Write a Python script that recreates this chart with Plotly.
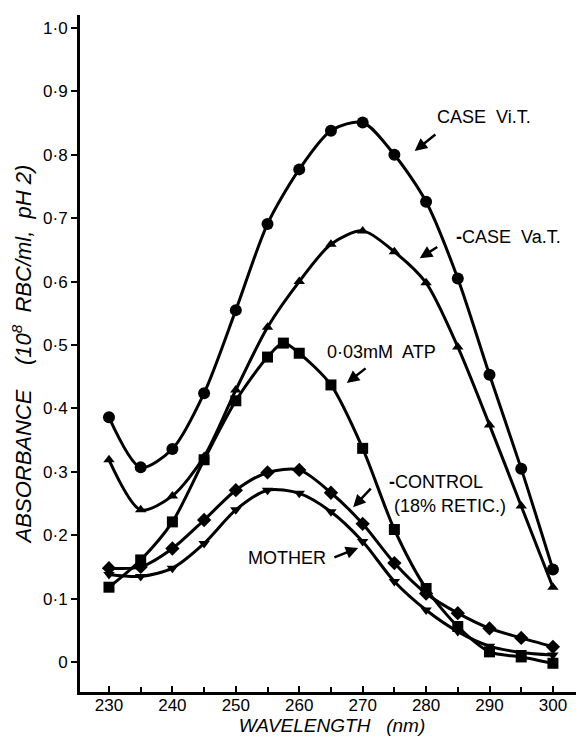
import plotly.graph_objects as go

# wavelength grid (nm)
wavelength = [230, 235, 240, 245, 250, 255, 260, 265, 270, 275, 280, 285, 290, 295, 300]
atp_wavelength = [230, 235, 240, 245, 250, 255, 257.5, 260, 265, 270, 275, 280, 285, 290, 295, 300]

# absorbance
case_vit = [0.386, 0.307, 0.336, 0.424, 0.555, 0.691, 0.777, 0.838, 0.851, 0.800, 0.726, 0.605, 0.453, 0.305, 0.146]
case_vat = [0.319, 0.240, 0.262, 0.324, 0.429, 0.528, 0.600, 0.659, 0.680, 0.647, 0.598, 0.497, 0.374, 0.246, 0.118]
atp = [0.118, 0.161, 0.221, 0.319, 0.412, 0.481, 0.503, 0.487, 0.437, 0.337, 0.209, 0.116, 0.056, 0.016, 0.008, -0.002]
control = [0.148, 0.150, 0.179, 0.224, 0.271, 0.299, 0.303, 0.267, 0.218, 0.156, 0.108, 0.077, 0.053, 0.038, 0.024]
mother = [0.138, 0.135, 0.148, 0.187, 0.240, 0.271, 0.266, 0.237, 0.190, 0.127, 0.082, 0.048, 0.025, 0.015, 0.011]

y_tickvals = [0, 0.1, 0.2, 0.3, 0.4, 0.5, 0.6, 0.7, 0.8, 0.9, 1.0]
y_ticktext = ["0", "0·1", "0·2", "0·3", "0·4", "0·5", "0·6", "0·7", "0·8", "0·9", "1·0"]
x_tickvals = [230, 240, 250, 260, 270, 280, 290, 300]

FONT = "Liberation Sans"
INK = "black"

series = [
    (wavelength, case_vit, "circle", 12),
    (wavelength, case_vat, "triangle-up", 10),
    (atp_wavelength, atp, "square", 11),
    (wavelength, control, "diamond", 11),
    (wavelength, mother, "triangle-down", 10),
]

fig = go.Figure()
for xs, ys, sym, size in series:
    fig.add_trace(go.Scatter(
        x=xs, y=ys, mode="lines+markers",
        line=dict(color=INK, width=3, shape="spline", smoothing=0.8),
        marker=dict(symbol=sym, size=size, color=INK),
        showlegend=False,
    ))

# labels: (text, x, y)
labels = [
    ("CASE  Vi.T.", 289.1, 0.860),
    ("<b>-</b>CASE  Va.T.", 293.0, 0.670),
    ("0·03mM  ATP", 273.0, 0.489),
    ("<b>-</b>CONTROL", 281.6, 0.284),
    ("(18% RETIC.)", 283.8, 0.246),
    ("MOTHER", 258.1, 0.164),
]
for txt, lx, ly in labels:
    fig.add_annotation(x=lx, y=ly, text=txt, showarrow=False,
                       font=dict(family=FONT, size=18, color=INK))

# arrows: (tail x, tail y, head x, head y)
arrows = [
    (281.7, 0.834, 278.2, 0.806),
    (282.0, 0.656, 279.0, 0.637),
    (270.7, 0.465, 267.5, 0.440),
    (271.5, 0.276, 268.5, 0.244),
    (265.3, 0.164, 269.3, 0.180),
]
for tx, ty, hx, hy in arrows:
    fig.add_annotation(x=hx, y=hy, ax=tx, ay=ty, axref="x", ayref="y",
                       text="", showarrow=True, arrowhead=2, arrowsize=1,
                       arrowwidth=2.5, arrowcolor=INK)

# the page body adds an 8px offset, so the figure is a little smaller
fig.update_layout(
    width=576, height=737,
    margin=dict(l=72, r=0, t=7, b=53),
    paper_bgcolor="white", plot_bgcolor="white",
    font=dict(family=FONT, color=INK),
)
fig.update_xaxes(
    range=[225.43, 304.9], tickvals=x_tickvals,
    ticks="inside", ticklen=6, tickwidth=1.5, tickcolor=INK,
    minor=dict(dtick=5, tick0=230, ticks="inside", ticklen=5, tickwidth=1.5, tickcolor=INK),
    showline=True, linecolor=INK, linewidth=3, showgrid=False, zeroline=False,
    tickfont=dict(size=17), ticklabelstandoff=-4,
    title=dict(text="<i>WAVELENGTH   (nm)</i>", font=dict(size=19), standoff=0),
)
fig.update_yaxes(
    range=[-0.0473, 1.0205], tickvals=y_tickvals, ticktext=y_ticktext,
    ticks="outside", ticklen=6, tickwidth=1.5, tickcolor=INK,
    showline=True, linecolor=INK, linewidth=3, showgrid=False, zeroline=False,
    tickfont=dict(size=17),
    title=dict(text="<i>ABSORBANCE    (10<sup>8</sup>  RBC/ml,  pH 2)</i>", font=dict(size=22), standoff=6),
)

fig.write_html("out.html")
